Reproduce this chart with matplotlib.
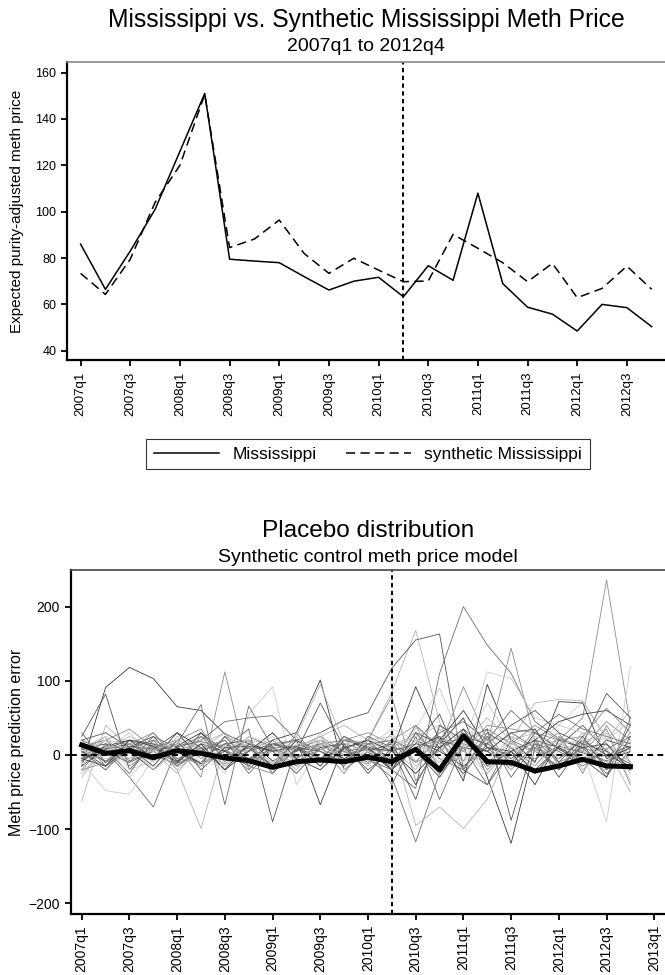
import numpy as np
import matplotlib.pyplot as plt

plt.rcParams['font.family'] = ['Liberation Sans', 'DejaVu Sans']

# ---- data: quarters 2007q1 .. 2012q4
quarters = [f'{y}q{q}' for y in range(2007, 2014) for q in range(1, 5)]
top_ticks = quarters[0:23:2]          # 2007q1 .. 2012q3
bot_ticks = quarters[0:25:2]          # 2007q1 .. 2013q1

mississippi = [86, 66.5, 83, 101, 126, 151, 79.5, 78.7, 78, 72, 66.2, 70,
               71.7, 63.3, 76.7, 70.4, 108, 69, 58.8, 55.8, 48.5, 60, 58.6, 50.4]
synthetic = [73.4, 64.3, 79.5, 104, 120, 150.6, 84.5, 88.2, 96.4, 82, 73.4, 79.9,
             74.8, 69.8, 70.1, 90.2, 84.2, 78, 69.8, 77.7, 62.9, 66.9, 76.5, 66.5]

ms_gap = [13.5, 2.2, 5.8, -3.6, 5.8, 2.2, -4, -7.6, -16.6, -9, -6.7, -9,
          -3, -9, 7.6, -20, 26, -9, -10, -21.6, -14.8, -5.8, -14.8, -15.7]

placebo = [
    [-15, 91, 118, 103, 65, 60, 28, 15, 5, 10, -5, 0, 8, -10, 20, 5, -15, 10, 0, -5, 12, 3, -8, 5],
    [5, -8, 10, 0, -12, 6, 15, -5, 8, -3, 10, 4, -6, -20, -45, 110, 200, 148, 110, 45, 22, 10, -2, 8],
    [0, 12, -5, 8, 3, -10, 6, 20, 15, 5, 25, 40, 20, 85, 168, 45, -30, 25, 20, 30, 10, -5, 15, -10],
    [8, 3, -10, 5, 12, 18, 10, 5, 15, 20, 30, 47, 57, 117, 155, 163, -20, -40, 5, -20, 10, -8, 0, 12],
    [-3, 10, 4, -8, 15, 2, -12, 6, 20, -10, 8, -5, 12, -18, 10, 25, -8, 35, 15, 40, 20, 50, 236, 40],
    [10, -5, 2, 12, -6, 8, 15, -10, 5, 12, -8, 20, -5, 10, 30, -15, 20, 5, -10, 25, 15, 5, -90, 120],
    [-5, 8, 15, -3, 10, -12, 5, 20, -8, 6, 15, -5, 10, -20, 30, 15, 50, -30, -119, 10, -5, 20, 0, -15],
    [12, 20, -8, 5, -15, 10, 6, -5, 15, 8, -10, 12, -5, -30, -117, -25, 10, -40, 20, 5, -15, 10, -25, 5],
    [-8, 5, 25, 10, -20, -99, 15, 8, -12, 20, 5, -8, 15, 10, -20, 35, 5, -12, 25, 10, -5, 30, -20, 0],
    [15, -10, 8, 20, 5, -15, 10, 35, -90, 12, -6, 25, 4, -15, 40, 10, -25, 15, -5, 20, -30, 15, 5, -12],
    [3, 25, -15, 8, 12, -30, 112, -20, 10, -5, 15, 0, -12, 20, -10, 5, 30, -20, 10, -15, 25, 8, -10, 18],
    [-12, 6, 30, -10, 20, 8, -25, 55, 92, -40, 10, 5, -8, 15, 25, -30, 12, 70, 20, -25, 5, 15, 30, -35],
    [5, -15, 10, 25, -8, 15, 5, -12, 20, 30, 101, -20, 5, 15, -40, 20, 10, 5, -15, 30, 8, -10, 20, 10],
    [20, 5, -30, -70, 10, 25, -5, 12, -15, 8, 20, -10, 15, -5, 10, -25, 35, 10, -20, 15, 5, -15, 8, 25],
    [-62, 40, 10, -15, 25, 5, 20, -10, 8, -20, 15, 10, -5, 30, -15, 10, 5, -12, 18, -8, 25, 5, -15, 10],
    [25, 82, -20, 15, -10, 30, 5, -15, 12, 20, -5, 8, 20, -10, 15, 55, -20, 30, 10, -25, 12, 40, 5, -20],
    [-20, 15, 5, 30, -5, -10, 25, 10, -15, 5, 12, -25, 20, 79, -35, 10, 92, 20, -10, 35, -15, 10, 45, 20],
    [-10, -48, -53, -5, 20, 10, -15, 5, 25, -10, 15, 5, -8, 12, 20, -10, 5, -25, 10, 15, 40, 72, 25, 15],
    [8, 15, 5, -20, 12, 30, -5, 10, -15, 20, -67, 15, 5, -20, 10, 25, -35, 95, 20, -10, 72, 70, -5, 10],
    [30, -10, 20, 5, 15, 68, -67, 66, 10, -15, 20, 5, 10, -40, 25, -60, 15, 5, 30, 10, -20, 15, -30, 50],
    [-25, 10, -5, 15, -20, 8, 30, -12, 5, 25, -8, 10, -15, 20, -95, -70, -99, -60, 15, 5, 20, -10, 15, -25],
    [5, -20, 12, 8, 30, -5, 15, 20, -25, 10, 5, -15, 25, 10, 5, -30, 20, 35, -88, 20, 10, -5, -30, 25],
    [-5, 20, 35, 10, -12, 25, 8, -20, 15, 10, 25, 5, -10, 20, 40, -20, 10, 15, 144, 20, -10, 5, 35, -40],
    [10, 0, -10, 20, 8, -15, 12, 5, 30, -10, 20, 15, 5, -10, 35, 90, 10, 112, 103, 50, 40, 30, 20, 45],
    [-8, 12, 20, -5, 30, 10, -20, 15, 5, 12, -15, 20, 10, 5, 92, 20, 60, 10, 5, 20, 45, 55, 60, 40],
    [15, 5, -10, 25, 10, 20, 45, 50, 53, 20, 5, -10, 15, 20, 5, 30, 45, 20, 60, 30, 55, 35, 25, 15],
    [0, 20, 15, 5, -25, 15, 30, 10, -10, 25, 95, 15, 20, 10, 25, 40, 15, 50, 20, 70, 75, 73, 20, 60],
    [-15, 8, 20, 15, 5, -12, 25, -8, 15, 5, 70, 10, -20, 5, 15, 10, 25, 15, 40, 60, 30, 15, 83, 50],
    [20, -15, 5, 10, 20, 35, -10, 25, 10, -5, 15, 20, 30, 15, -10, 25, 5, 40, 35, 30, 20, 25, 63, 30],
    [10, 25, -20, -8, 15, -5, 10, 20, -12, 15, 20, -10, 5, -15, 20, 15, -10, 20, -20, 25, 15, -12, 30, 5],
    [-5, -15, 20, 12, -10, 15, -20, 5, 30, -5, -20, 10, 20, 5, -25, 10, 35, -15, 5, -40, 20, 10, 15, -20],
    [12, 8, -25, 20, -15, 5, 20, -25, 10, 12, -15, 25, 10, -20, 30, -5, -20, 25, -30, 15, -20, 20, -15, 30],
    [-30, 12, 10, -20, 5, 20, -15, 18, -20, 10, 25, -15, 20, 25, -8, 20, 15, -25, 10, -5, 25, -20, 10, -50],
    [20, 30, 10, -15, 20, -20, 10, 12, 5, -25, 10, 15, -25, 10, -60, 40, 20, 5, 30, 35, -10, 25, -20, 40],
    [-20, -10, 15, 30, -5, 10, 20, -15, -25, 30, -10, 20, 15, -10, 10, 20, -20, 30, -15, 10, 30, -25, 40, -10],
    [5, 20, -30, 5, 20, -10, -15, 25, 15, -20, 30, -20, 10, 35, 20, -10, 30, -5, 20, -15, 15, 20, -10, 30],
]
grays = ['#3a3a3a', '#6e6e6e', '#b4b4b4', '#555555', '#8c8c8c', '#cacaca']

treat = 13  # 2010q2
t = np.arange(len(mississippi))

fig = plt.figure(figsize=(6.65, 9.75), dpi=100)
W, H = 665, 975


def frame(ax, top_color):
    for s in ['left', 'bottom']:
        ax.spines[s].set_linewidth(1.6)
    ax.spines['right'].set_visible(False)
    ax.spines['top'].set_color(top_color)
    ax.spines['top'].set_linewidth(1.2)
    ax.tick_params(direction='out', length=4.5, width=1.3)


# ---- top panel
ax1 = fig.add_axes([67.3 / W, 1 - 360.5 / H, 1 - 67.3 / W, (360.5 - 61.7) / H])
ax1.plot(t, mississippi, color='black', lw=1.1, label='Mississippi')
ax1.plot(t, synthetic, color='black', lw=1.1, ls=(0, (6, 3.5)), label='synthetic Mississippi')
ax1.axvline(treat, color='black', lw=1.4, ls=(0, (2.2, 1.8)))
ax1.set_xlim(-0.535, 23.535)
ax1.set_ylim(35.8, 164.7)
ax1.set_yticks([40, 60, 80, 100, 120, 140, 160])
ax1.set_xticks(range(0, 23, 2))
ax1.set_xticklabels(top_ticks, rotation=90, fontsize=9.5)
ax1.tick_params(axis='y', labelsize=9)
frame(ax1, '#888888')
fig.text(17 / W, 1 - 211 / H, 'Expected purity-adjusted meth price', rotation=90,
         ha='center', va='center', fontsize=11)
fig.text(366 / W, 1 - 27 / H, 'Mississippi vs. Synthetic Mississippi Meth Price',
         ha='center', va='baseline', fontsize=17.8)
fig.text(366 / W, 1 - 51 / H, '2007q1 to 2012q4', ha='center', va='baseline', fontsize=14)
fig.legend(*ax1.get_legend_handles_labels(), loc='center', ncol=2,
           bbox_to_anchor=(368 / W, 1 - 454 / H), fontsize=12.5, frameon=True,
           fancybox=False, edgecolor='black', handlelength=3.75, handletextpad=0.75,
           columnspacing=1.7, borderpad=0.45).get_frame().set_linewidth(0.8)

# ---- bottom panel
ax2 = fig.add_axes([71 / W, 1 - 914 / H, 1 - 71 / W, (914 - 570) / H])
for i, s in enumerate(placebo):
    ax2.plot(np.arange(len(s)), s, color=grays[i % len(grays)], lw=0.6)
ax2.plot(t, ms_gap, color='black', lw=3.6)
ax2.axvline(treat, color='black', lw=1.4, ls=(0, (2.2, 1.8)))
ax2.axhline(0, color='black', lw=1.4, ls=(0, (3, 2.2)))
ax2.set_xlim(-0.45, 24.45)
ax2.set_ylim(-214.3, 249.3)
ax2.set_yticks([-200, -100, 0, 100, 200])
ax2.set_xticks(range(0, 25, 2))
ax2.set_xticklabels(bot_ticks, rotation=90, fontsize=10)
ax2.tick_params(axis='y', labelsize=10)
frame(ax2, '#444444')
fig.text(17 / W, 1 - 742 / H, 'Meth price prediction error', rotation=90,
         ha='center', va='center', fontsize=11.5)
fig.text(368 / W, 1 - 536.7 / H, 'Placebo distribution', ha='center', va='baseline', fontsize=17.6)
fig.text(368 / W, 1 - 561.7 / H, 'Synthetic control meth price model',
         ha='center', va='baseline', fontsize=14)

fig.savefig('out.png', dpi=100)
